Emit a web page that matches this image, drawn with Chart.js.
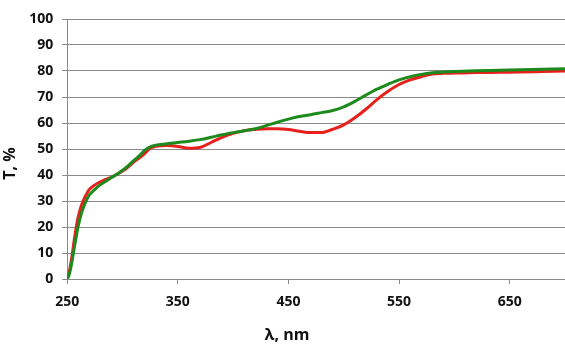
<!DOCTYPE html>
<html>
<head>
<meta charset="utf-8">
<script src="https://cdn.jsdelivr.net/npm/chart.js@4"></script>
<style>
  html,body{margin:0;padding:0;background:#fff;}
  #wrap{width:565px;height:345px;position:relative;}
</style>
</head>
<body>
<div id="wrap"><canvas id="c"></canvas></div>
<script>
// wavelength, nm
const wavelength = [250,252,254,256,258,260,263,266,270,275,280,285,290,295,300,305,310,315,320,325,330,340,350,360,370,380,390,400,410,420,430,440,450,460,470,480,490,500,510,520,530,540,550,560,570,580,590,600,620,640,660,680,700];
// transmittance, %
const greenT = [0,2,6,11,16,20.5,25.5,29,32.3,34.5,36.3,37.6,39,40.3,41.8,43.5,45.5,47.3,49.5,50.8,51.5,52,52.5,53,53.6,54.5,55.5,56.3,57,57.8,59,60.3,61.5,62.5,63.2,64,64.8,66.2,68.3,70.7,73,74.9,76.6,77.8,78.7,79.3,79.6,79.8,80.1,80.3,80.5,80.7,80.9];
const redT = [0,3,8,14,19.5,24,28.5,31.5,34.5,36.2,37.4,38.3,39.2,40.3,41.5,43,45,46.5,48.2,50.3,51,51.3,51,50.3,50.6,52.5,54.5,56,57,57.5,57.8,57.8,57.5,56.8,56.3,56.3,57.6,59.3,62,65.3,69,72.2,74.8,76.6,77.8,78.8,79.1,79.2,79.4,79.5,79.6,79.8,80];
const xTicks = [250,350,450,550,650];

const GRID = '#8a8a8a';
const FONT = {family:"'Open Sans',sans-serif",size:14,weight:'bold'};
const pts = ys => wavelength.map((x,i)=>({x,y:ys[i]}));
const pad = n => '\u00a0'.repeat(n); // nudges the axis titles off-centre like the original

new Chart(document.getElementById('c'),{
  type:'line',
  data:{datasets:[
    {label:'green',data:pts(greenT),borderColor:'#1c8a1c',borderWidth:3,pointRadius:0,cubicInterpolationMode:'monotone',fill:false},
    {label:'red',data:pts(redT),borderColor:'#e8201c',borderWidth:3,pointRadius:0,cubicInterpolationMode:'monotone',fill:false}
  ]},
  options:{
    responsive:true,maintainAspectRatio:false,animation:false,
    layout:{padding:{top:19,right:0,left:1,bottom:0}},
    plugins:{legend:{display:false},tooltip:{enabled:false}},
    scales:{
      x:{type:'linear',min:250,max:700,
        afterBuildTicks:s=>{s.ticks=xTicks.map(v=>({value:v}));},
        grid:{drawOnChartArea:false,drawTicks:true,tickLength:5,color:GRID},
        border:{color:GRID},
        ticks:{color:'#111',font:FONT,padding:10,maxRotation:0},
        title:{display:true,text:'λ, nm'+pad(14),color:'#111',font:{...FONT,size:16},padding:{top:5,bottom:0}}},
      y:{min:0,max:100,
        grid:{color:GRID,tickLength:5},
        border:{color:GRID},
        ticks:{stepSize:10,color:'#111',font:FONT,padding:9},
        title:{display:true,text:'T, %'+pad(7),color:'#111',font:{...FONT,size:16},padding:{top:0,bottom:0}}}
    }
  }
});
</script>
</body>
</html>
